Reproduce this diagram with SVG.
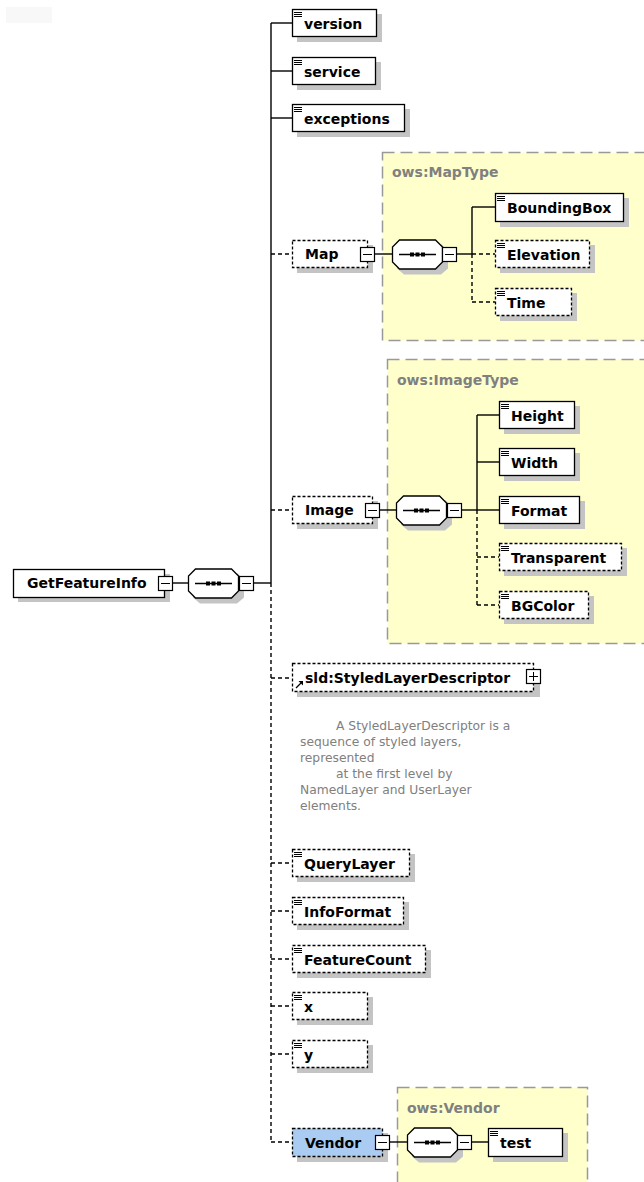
<svg xmlns="http://www.w3.org/2000/svg" width="644" height="1182" viewBox="0 0 644 1182">
<defs>
<style>
.bg{fill:#ffffff}
.box{fill:#ffffff;stroke:#000;stroke-width:1.3}
.opt{fill:#ffffff;stroke:#000;stroke-width:1.3;stroke-dasharray:3,2}
.vend{fill:#aacbf2;stroke:#000;stroke-width:1.3;stroke-dasharray:3,2}
.sh{fill:#c4c4c4}
.ct{fill:none;stroke:#000;stroke-width:1.4}
.cd{fill:none;stroke:#000;stroke-width:1.4;stroke-dasharray:4,3}
.yl{fill:#ffffcc;stroke:#999999;stroke-width:1.5;stroke-dasharray:12,6}
.ic{stroke:#000;stroke-width:1}
.t{font-family:"DejaVu Sans","Liberation Sans",sans-serif;font-weight:bold;font-size:14px;fill:#000}
.tl{font-family:"DejaVu Sans","Liberation Sans",sans-serif;font-weight:bold;font-size:14px;fill:#808080}
.ds{font-family:"DejaVu Sans","Liberation Sans",sans-serif;font-size:12.3px;fill:#808080}
.mb{fill:#ffffff;stroke:#000;stroke-width:1.2}
</style>
<g id="ico"><line class="ic" x1="0" y1="0.5" x2="8" y2="0.5"/><line class="ic" x1="0" y1="2.5" x2="8" y2="2.5"/><line class="ic" x1="0" y1="4.5" x2="8" y2="4.5"/></g>
<g id="minus"><rect class="mb" x="0.5" y="0.5" width="14" height="14"/><line class="ic" x1="3" y1="7.5" x2="12" y2="7.5"/></g>
<g id="seq"><path class="sh" d="M13,5 H50 L56,12 V29 L49,35 H12 L5,29 V12 Z"/><path class="box" d="M7.5,0.5 H43.5 L50.5,7.5 V22.5 L43.5,29.5 H7.5 L0.5,22.5 V7.5 Z"/><line x1="7" y1="15" x2="44" y2="15" stroke="#000" stroke-width="1.3"/><rect x="18" y="13" width="4" height="4" fill="#000"/><rect x="23.5" y="13" width="4" height="4" fill="#000"/><rect x="29" y="13" width="4" height="4" fill="#000"/></g>
</defs>
<rect class="bg" x="0" y="0" width="644" height="1182"/>
<rect x="6" y="7" width="46" height="16" fill="#f8f8f8"/>

<!-- yellow type boxes -->
<g id="maptype"><rect class="yl" x="382.5" y="152.5" width="275" height="188"/><text class="tl" x="392" y="177">ows:MapType</text></g>
<g id="imagetype"><rect class="yl" x="387.5" y="359.5" width="270" height="284"/><text class="tl" x="397" y="385">ows:ImageType</text></g>
<g id="vendortype"><rect class="yl" x="397.5" y="1087.5" width="190" height="110"/><text class="tl" x="407" y="1113">ows:Vendor</text></g>

<g id="connectors">
<line class="ct" x1="271" y1="23" x2="271" y2="583"/>
<line class="cd" x1="271" y1="583" x2="271" y2="1142"/>
<line class="ct" x1="271" y1="23" x2="292" y2="23"/>
<line class="ct" x1="271" y1="71" x2="292" y2="71"/>
<line class="ct" x1="271" y1="118" x2="292" y2="118"/>
<line class="cd" x1="271" y1="254" x2="292" y2="254"/>
<line class="cd" x1="271" y1="510" x2="292" y2="510"/>
<line class="cd" x1="271" y1="678" x2="292" y2="678"/>
<line class="cd" x1="271" y1="863" x2="292" y2="863"/>
<line class="cd" x1="271" y1="911" x2="292" y2="911"/>
<line class="cd" x1="271" y1="959" x2="292" y2="959"/>
<line class="cd" x1="271" y1="1006" x2="292" y2="1006"/>
<line class="cd" x1="271" y1="1054" x2="292" y2="1054"/>
<line class="cd" x1="271" y1="1142" x2="292" y2="1142"/>
<line class="ct" x1="172" y1="583" x2="188" y2="583"/>
<line class="ct" x1="253" y1="583" x2="271" y2="583"/>
<!-- map -->
<line class="ct" x1="375" y1="254" x2="392" y2="254"/>
<line class="ct" x1="457" y1="254" x2="472" y2="254"/>
<line class="ct" x1="472" y1="207" x2="472" y2="254"/>
<line class="cd" x1="472" y1="254" x2="472" y2="302"/>
<line class="ct" x1="472" y1="207" x2="495" y2="207"/>
<line class="cd" x1="472" y1="254" x2="495" y2="254"/>
<line class="cd" x1="472" y1="302" x2="495" y2="302"/>
<!-- image -->
<line class="ct" x1="380" y1="510" x2="396" y2="510"/>
<line class="ct" x1="461" y1="510" x2="477" y2="510"/>
<line class="ct" x1="477" y1="415" x2="477" y2="510"/>
<line class="cd" x1="477" y1="510" x2="477" y2="605"/>
<line class="ct" x1="477" y1="415" x2="499" y2="415"/>
<line class="ct" x1="477" y1="462" x2="499" y2="462"/>
<line class="ct" x1="477" y1="510" x2="499" y2="510"/>
<line class="cd" x1="477" y1="557" x2="499" y2="557"/>
<line class="cd" x1="477" y1="605" x2="499" y2="605"/>
<!-- vendor -->
<line class="ct" x1="390" y1="1142" x2="407" y2="1142"/>
<line class="ct" x1="472" y1="1142" x2="488" y2="1142"/>
</g>

<g id="GetFeatureInfo">
<rect class="sh" x="18" y="574" width="152" height="28"/>
<rect class="box" x="13.5" y="569.5" width="151" height="28"/>
<text class="t" x="27" y="588">GetFeatureInfo</text>
<use href="#minus" x="158" y="576"/>
</g>
<g id="seq-root"><use href="#seq" x="188" y="568.5"/><use href="#minus" x="239" y="576"/></g>

<g id="version"><rect class="sh" x="297" y="14" width="85" height="28"/><rect class="box" x="292.5" y="9.5" width="84" height="27"/><use href="#ico" x="294" y="12"/><text class="t" x="304" y="29">version</text></g>
<g id="service"><rect class="sh" x="297" y="62" width="84" height="28"/><rect class="box" x="292.5" y="57.5" width="83" height="27"/><use href="#ico" x="294" y="60"/><text class="t" x="304" y="77">service</text></g>
<g id="exceptions"><rect class="sh" x="297" y="109" width="113" height="28"/><rect class="box" x="292.5" y="104.5" width="112" height="27"/><use href="#ico" x="294" y="107"/><text class="t" x="304" y="124">exceptions</text></g>

<g id="Map"><rect class="sh" x="297" y="245" width="76" height="28"/><rect class="opt" x="292.5" y="240.5" width="75" height="27"/><text class="t" x="305" y="259">Map</text><use href="#minus" x="360" y="247"/></g>
<g id="seq-map"><use href="#seq" x="392" y="239.5"/><use href="#minus" x="442" y="247"/></g>
<g id="BoundingBox"><rect class="sh" x="500" y="198" width="129" height="29"/><rect class="box" x="495.5" y="193.5" width="128" height="28"/><use href="#ico" x="497" y="196"/><text class="t" x="507" y="213">BoundingBox</text></g>
<g id="Elevation"><rect class="sh" x="500" y="245" width="95" height="28"/><rect class="opt" x="495.5" y="240.5" width="94" height="27"/><use href="#ico" x="497" y="243"/><text class="t" x="507" y="260">Elevation</text></g>
<g id="Time"><rect class="sh" x="500" y="293" width="77" height="28"/><rect class="opt" x="495.5" y="288.5" width="76" height="27"/><use href="#ico" x="497" y="291"/><text class="t" x="507" y="308">Time</text></g>

<g id="Image"><rect class="sh" x="297" y="501" width="81" height="28"/><rect class="opt" x="292.5" y="496.5" width="80" height="27"/><text class="t" x="305" y="515">Image</text><use href="#minus" x="365" y="503"/></g>
<g id="seq-image"><use href="#seq" x="396" y="495.5"/><use href="#minus" x="447" y="503"/></g>
<g id="Height"><rect class="sh" x="504" y="406" width="76" height="28"/><rect class="box" x="499.5" y="401.5" width="75" height="27"/><use href="#ico" x="501" y="404"/><text class="t" x="511" y="421">Height</text></g>
<g id="Width"><rect class="sh" x="504" y="453" width="76" height="28"/><rect class="box" x="499.5" y="448.5" width="75" height="27"/><use href="#ico" x="501" y="451"/><text class="t" x="511" y="468">Width</text></g>
<g id="Format"><rect class="sh" x="504" y="501" width="81" height="28"/><rect class="box" x="499.5" y="496.5" width="80" height="27"/><use href="#ico" x="501" y="499"/><text class="t" x="511" y="516">Format</text></g>
<g id="Transparent"><rect class="sh" x="504" y="548" width="123" height="28"/><rect class="opt" x="499.5" y="543.5" width="122" height="27"/><use href="#ico" x="501" y="546"/><text class="t" x="511" y="563">Transparent</text></g>
<g id="BGColor"><rect class="sh" x="504" y="596" width="90" height="28"/><rect class="opt" x="499.5" y="591.5" width="89" height="27"/><use href="#ico" x="501" y="594"/><text class="t" x="511" y="611">BGColor</text></g>

<g id="StyledLayerDescriptor">
<rect class="sh" x="297" y="669" width="243" height="28"/>
<rect class="opt" x="292.5" y="663.5" width="241" height="28"/>
<text class="t" x="305" y="683">sld:StyledLayerDescriptor</text>
<path d="M296,688 L301.5,682.5" stroke="#000" stroke-width="1.3" fill="none"/>
<path d="M298.5,681 L303,681 L303,685.5 Z" fill="#000"/>
<rect class="mb" x="526.5" y="669.5" width="14" height="14"/>
<line class="ic" x1="529" y1="676.5" x2="538" y2="676.5"/>
<line class="ic" x1="533.5" y1="672" x2="533.5" y2="681"/>
<text class="ds"><tspan x="336" y="730">A StyledLayerDescriptor is a</tspan><tspan x="300" y="746">sequence of styled layers,</tspan><tspan x="300" y="762">represented</tspan><tspan x="336" y="778">at the first level by</tspan><tspan x="300" y="794">NamedLayer and UserLayer</tspan><tspan x="300" y="810">elements.</tspan></text>
</g>

<g id="QueryLayer"><rect class="sh" x="297" y="854" width="118" height="28"/><rect class="opt" x="292.5" y="849.5" width="117" height="27"/><use href="#ico" x="294" y="852"/><text class="t" x="304" y="869">QueryLayer</text></g>
<g id="InfoFormat"><rect class="sh" x="297" y="902" width="112" height="28"/><rect class="opt" x="292.5" y="897.5" width="111" height="27"/><use href="#ico" x="294" y="900"/><text class="t" x="304" y="917">InfoFormat</text></g>
<g id="FeatureCount"><rect class="sh" x="297" y="950" width="134" height="28"/><rect class="opt" x="292.5" y="945.5" width="133" height="27"/><use href="#ico" x="294" y="948"/><text class="t" x="304" y="965">FeatureCount</text></g>
<g id="x"><rect class="sh" x="297" y="997" width="76" height="28"/><rect class="opt" x="292.5" y="992.5" width="75" height="27"/><use href="#ico" x="294" y="995"/><text class="t" x="304" y="1012">x</text></g>
<g id="y"><rect class="sh" x="297" y="1045" width="76" height="28"/><rect class="opt" x="292.5" y="1040.5" width="75" height="27"/><use href="#ico" x="294" y="1043"/><text class="t" x="304" y="1060">y</text></g>

<g id="Vendor"><rect class="sh" x="297" y="1133" width="91" height="29"/><rect class="vend" x="292.5" y="1128.5" width="90" height="28"/><text class="t" x="305" y="1148">Vendor</text><use href="#minus" x="375" y="1135"/></g>
<g id="seq-vendor"><use href="#seq" x="407" y="1127.5"/><use href="#minus" x="457" y="1135"/></g>
<g id="test"><rect class="sh" x="493" y="1133" width="75" height="29"/><rect class="box" x="488.5" y="1128.5" width="74" height="28"/><use href="#ico" x="490" y="1131"/><text class="t" x="500" y="1148">test</text></g>
</svg>
